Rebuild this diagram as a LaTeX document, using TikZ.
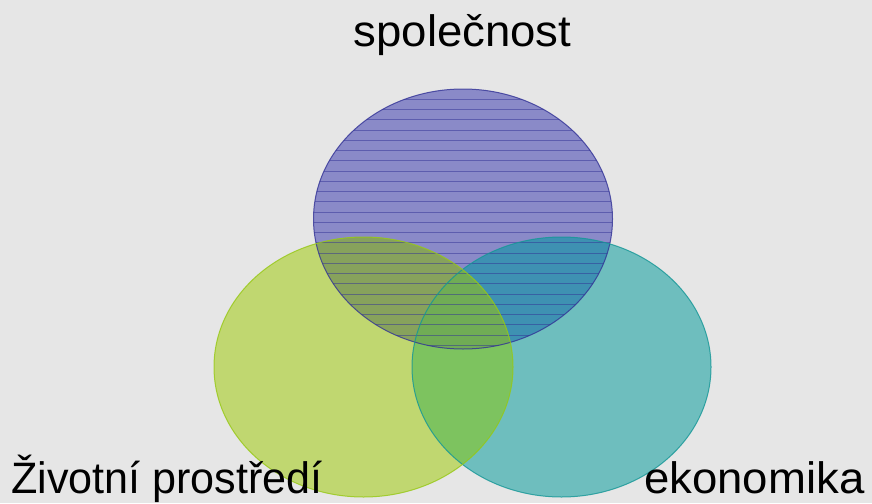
\documentclass[tikz,border=0pt]{standalone}
\usepackage{fontspec}
\setmainfont{Liberation Sans}
\begin{document}
\begin{tikzpicture}[x=1pt,y=-1pt]
\definecolor{bgc}{RGB}{230,230,230}
\definecolor{pfill}{RGB}{138,138,200}
\definecolor{gfill}{RGB}{192,215,112}
\definecolor{tfill}{RGB}{110,190,190}
\definecolor{pgfill}{RGB}{135,162,92}
\definecolor{ptfill}{RGB}{62,145,178}
\definecolor{gtfill}{RGB}{125,195,95}
\definecolor{pgtfill}{RGB}{112,172,85}
\definecolor{pline}{RGB}{50,50,150}
\definecolor{gline}{RGB}{150,200,20}
\definecolor{tline}{RGB}{20,150,150}
\tikzset{lbl/.style={font=\fontsize{44}{50}\selectfont, text=black, inner sep=0pt}}
\def\Pe{(463,219) ellipse [x radius=149.5, y radius=130]}
\def\Ge{(363.5,367) ellipse [x radius=149.5, y radius=130]}
\def\Te{(561.5,367) ellipse [x radius=149.5, y radius=130]}
\useasboundingbox (0,0) rectangle (872,503);
\fill[bgc] (0,0) rectangle (872,503);
% base fills
\fill[pfill] \Pe;
\fill[gfill] \Ge;
\fill[tfill] \Te;
% pairwise overlaps
\begin{scope}\clip \Pe; \fill[pgfill] \Ge; \end{scope}
\begin{scope}\clip \Pe; \fill[ptfill] \Te; \end{scope}
\begin{scope}\clip \Ge; \fill[gtfill] \Te; \end{scope}
\begin{scope}\clip \Pe; \clip \Ge; \fill[pgtfill] \Te; \end{scope}
% hatching of the top ellipse
\begin{scope}
\clip \Pe;
\foreach \i in {0,...,24} {
  \draw[pline, opacity=0.5, line width=1pt] (300,99.3+10.25*\i) -- (630,99.3+10.25*\i);
}
\end{scope}
% outlines
\draw[pline, line width=1pt, opacity=0.8] \Pe;
\draw[tline, line width=1pt, opacity=0.8] \Te;
\draw[gline, line width=1pt, opacity=0.8] \Ge;
% labels
\node[lbl, anchor=base, xscale=1.035] (soc) at (462.5,47) {společnost};
\node[lbl, anchor=base west, xscale=0.98] (env) at (11,493) {Životní prostředí};
\node[lbl, anchor=base west, xscale=1.035] (eko) at (644,493) {ekonomika};
\end{tikzpicture}
\end{document}
